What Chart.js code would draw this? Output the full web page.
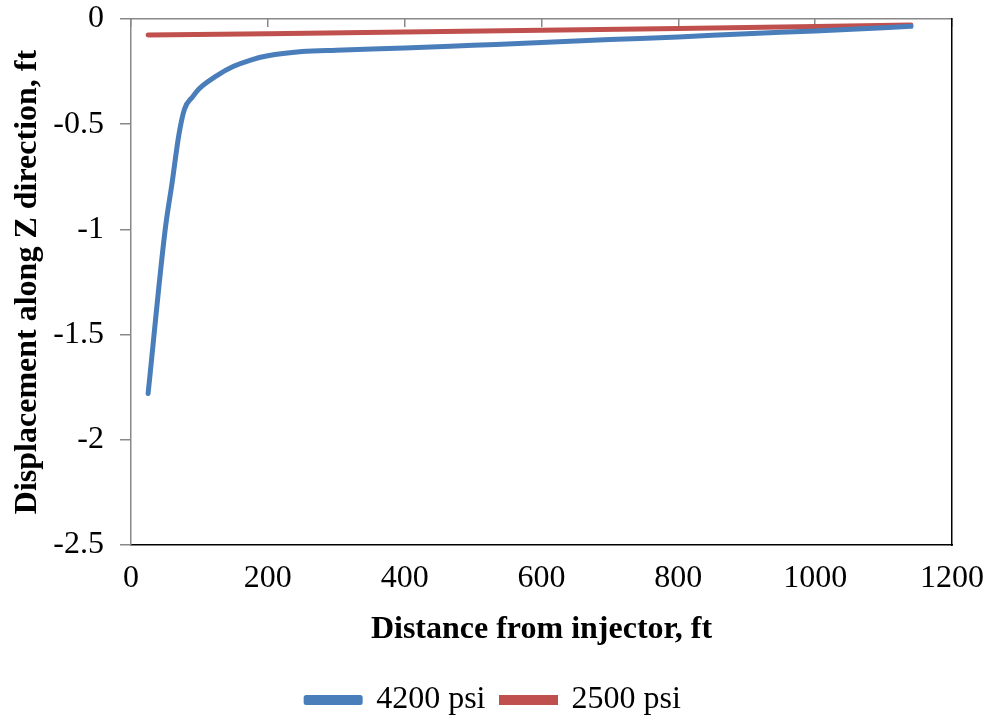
<!DOCTYPE html>
<html><head><meta charset="utf-8">
<script src="https://cdn.jsdelivr.net/npm/chart.js@4"></script>
<style>html,body{margin:0;padding:0;background:#fff}#wrap{width:987px;height:721px}</style>
</head><body><div id="wrap"><canvas id="c" width="987" height="721"></canvas></div>
<script>
const distance4200 = [25, 50, 60, 70, 78, 90, 100, 125, 150, 175, 200, 250, 300, 400, 500, 600, 700, 800, 900, 1000, 1100, 1140];
const disp4200 = [-1.78, -1.00, -0.78, -0.55, -0.43, -0.37, -0.33, -0.27, -0.225, -0.195, -0.175, -0.155, -0.148, -0.138, -0.125, -0.112, -0.098, -0.085, -0.07, -0.057, -0.042, -0.035];
const distance2500 = [25, 200, 400, 600, 800, 1000, 1140];
const disp2500 = [-0.076, -0.070, -0.062, -0.054, -0.045, -0.036, -0.029];
const seriesNames = ['4200 psi', '2500 psi'];
const xTicks = [0, 200, 400, 600, 800, 1000, 1200];
const yTicks = [0, -0.5, -1, -1.5, -2, -2.5];

const toPts = (xs, ys) => xs.map((x, i) => ({x: x, y: ys[i]}));
const serif = 'Liberation Serif, Times New Roman, serif';

new Chart(document.getElementById('c'), {
  type: 'line',
  data: {
    datasets: [
      {label: seriesNames[0], data: toPts(distance4200, disp4200), borderColor: '#4a7ebb', backgroundColor: '#4a7ebb', borderWidth: 5, pointRadius: 0, tension: 0.35, cubicInterpolationMode: 'monotone', borderCapStyle: 'round', borderJoinStyle: 'round'},
      {label: seriesNames[1], data: toPts(distance2500, disp2500), borderColor: '#c0504d', backgroundColor: '#c0504d', borderWidth: 5, pointRadius: 0, tension: 0, borderCapStyle: 'round'}
    ]
  },
  options: {
    responsive: false,
    animation: false,
    layout: {padding: {left: 0, right: 0, top: 19, bottom: -5}},
    plugins: {
      legend: {
        position: 'bottom',
        labels: {font: {family: serif, size: 32}, color: '#000', boxWidth: 54, boxHeight: 5, padding: 16}
      },
      tooltip: {enabled: false}
    },
    scales: {
      x: {
        type: 'linear', position: 'bottom', min: 0, max: 1200,
        afterBuildTicks: s => { s.ticks = xTicks.map(v => ({value: v})); },
        afterFit: s => { s.height = 123; s.paddingLeft = 0; s.paddingRight = 0; },
        grid: {display: false},
        border: {display: true, color: '#000', width: 1.5},
        ticks: {font: {family: serif, size: 32}, color: '#000', padding: 6, maxRotation: 0, callback: v => String(v)},
        title: {display: true, text: 'Distance from injector, ft', font: {family: serif, size: 32, weight: 'bold'}, color: '#000', padding: {top: 0, bottom: 19}}
      },
      x2: {
        type: 'linear', position: 'top', min: 0, max: 1200,
        afterBuildTicks: s => { s.ticks = xTicks.map(v => ({value: v})); },
        afterFit: s => { s.height = 0; s.paddingLeft = 0; s.paddingRight = 0; },
        grid: {display: true, drawOnChartArea: false, drawTicks: true, tickLength: -8, color: '#888', lineWidth: 1.5},
        border: {display: true, color: '#888', width: 1.5},
        ticks: {display: false}
      },
      y: {
        type: 'linear', position: 'left', min: -2.5, max: 0,
        afterBuildTicks: s => { s.ticks = yTicks.map(v => ({value: v})); },
        afterFit: s => { s.width = 131; s.paddingTop = 0; s.paddingBottom = 0; },
        grid: {display: true, drawOnChartArea: false, drawTicks: true, tickLength: 11, color: '#888', lineWidth: 1.5},
        border: {display: true, color: '#888', width: 1.5},
        ticks: {font: {family: serif, size: 32}, color: '#000', padding: 16, callback: v => String(v)},
        title: {display: true, text: 'Displacement along Z direction, ft', font: {family: serif, size: 32, weight: 'bold'}, color: '#000', padding: {top: 9, bottom: 0}}
      },
      y2: {
        type: 'linear', position: 'right', min: -2.5, max: 0,
        afterFit: s => { s.width = 35; s.paddingTop = 0; s.paddingBottom = 0; },
        grid: {display: false},
        border: {display: true, color: '#000', width: 1.5},
        ticks: {display: false}
      }
    }
  }
});
</script></body></html>
